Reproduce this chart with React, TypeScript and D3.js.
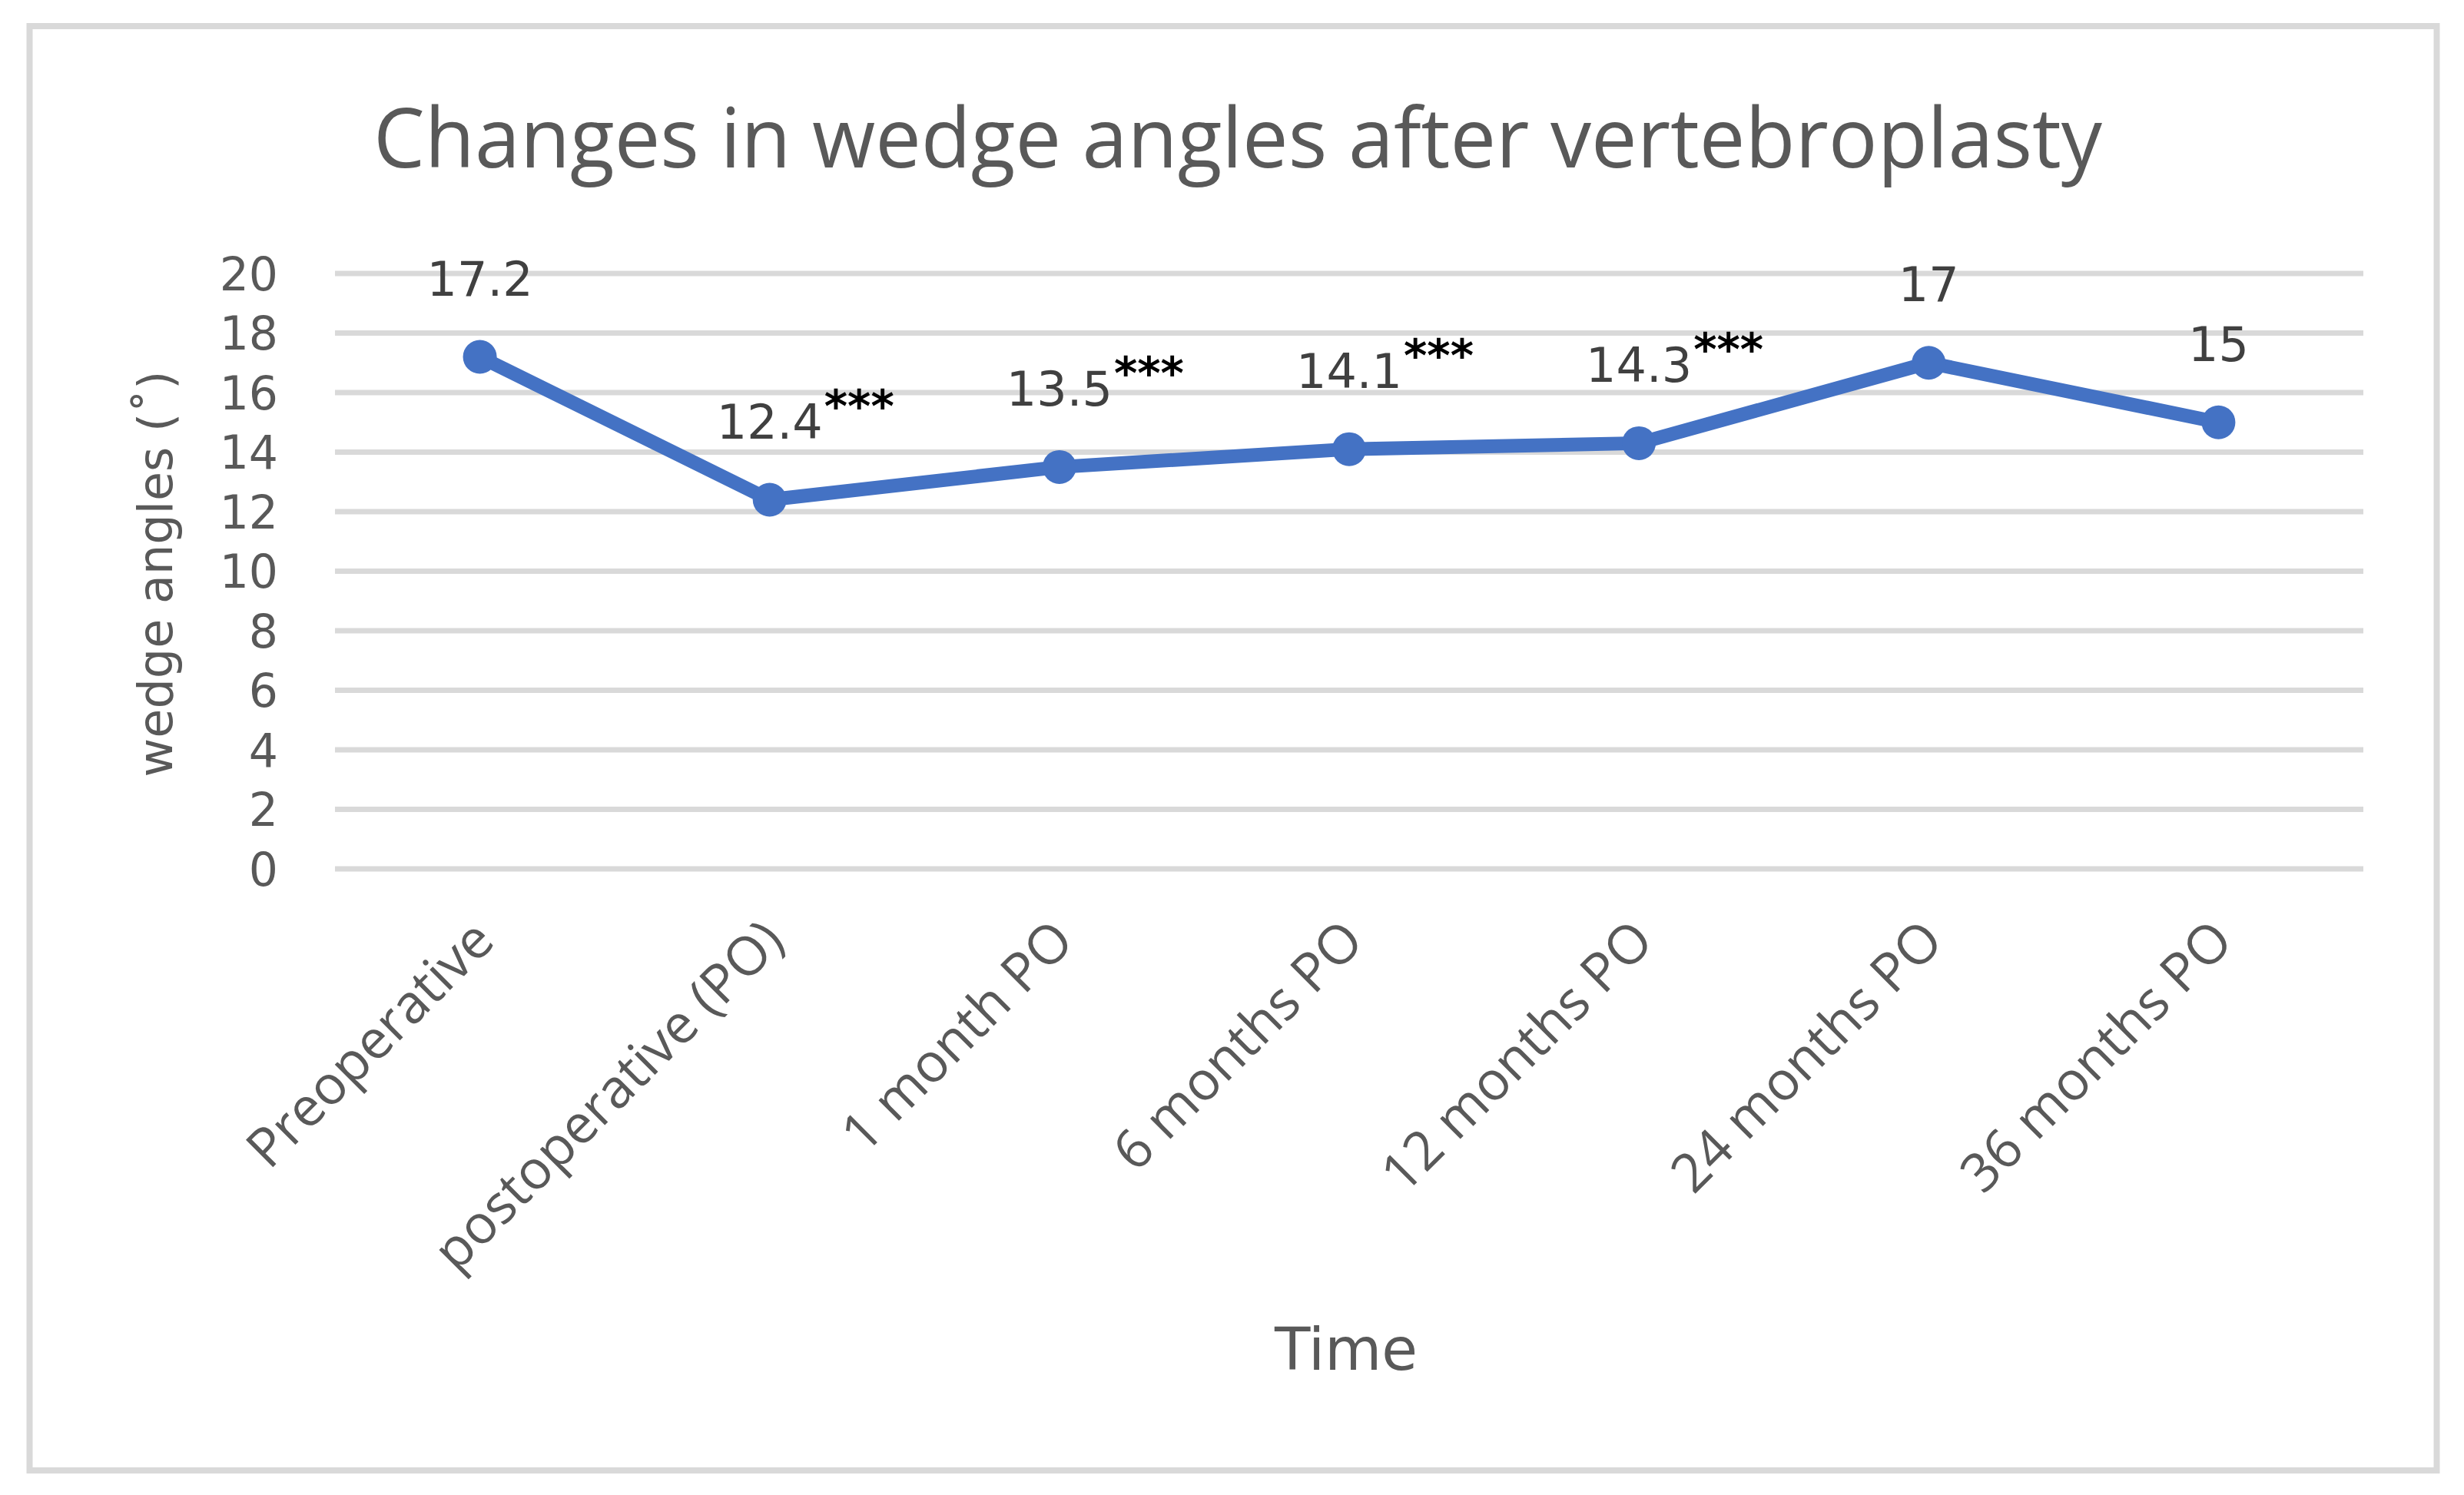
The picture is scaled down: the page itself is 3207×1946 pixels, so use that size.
import React, { useEffect, useRef } from 'react';
import * as d3 from 'd3';

// chart data
const categories = [
  'Preoperative',
  'postoperative (PO)',
  '1 month PO',
  '6 months PO',
  '12 months PO',
  '24 months PO',
  '36 months PO',
];
const wedgeAngles = [17.2, 12.4, 13.5, 14.1, 14.3, 17, 15];
const significance = ['', '***', '***', '***', '***', '', ''];
const yTicks = [0, 2, 4, 6, 8, 10, 12, 14, 16, 18, 20];

const title = 'Changes in wedge angles after vertebroplasty';
const yTitle = 'wedge angles (˚)';
const xTitle = 'Time';

const W = 3207;
const H = 1946;

const App: React.FC = () => {
  const svgRef = useRef<SVGSVGElement>(null);

  useEffect(() => {
    if (!svgRef.current) return;
    const svg = d3.select(svgRef.current);
    svg.selectAll('*').remove();

    const margin = { left: 436, right: 3076, top: 356, bottom: 1131 };
    const sans = '"Open Sans", "DejaVu Sans", sans-serif';
    const deja = '"DejaVu Sans", Verdana, sans-serif';
    const grey = '#595959';
    const blue = '#4472C4';

    const x = d3.scaleBand<string>().domain(categories).range([margin.left, margin.right]);
    const cx = (c: string) => (x(c) ?? 0) + x.bandwidth() / 2;
    const y = d3.scaleLinear().domain([0, 20]).range([margin.bottom, margin.top]);

    svg.append('rect').attr('width', W).attr('height', H).attr('fill', '#fff');

    // outer frame
    svg.append('rect')
      .attr('x', 38.5).attr('y', 34)
      .attr('width', 3133).attr('height', 1880)
      .attr('fill', 'none')
      .attr('stroke', '#d9d9d9')
      .attr('stroke-width', 8);

    // title
    svg.append('text')
      .attr('x', 1611).attr('y', 218)
      .attr('text-anchor', 'middle')
      .attr('font-family', sans)
      .attr('font-size', 108)
      .attr('textLength', 2250)
      .attr('lengthAdjust', 'spacingAndGlyphs')
      .attr('fill', grey)
      .text(title);

    // gridlines
    svg.append('g').selectAll('line')
      .data(yTicks)
      .enter()
      .append('line')
      .attr('x1', margin.left).attr('x2', margin.right)
      .attr('y1', d => y(d)).attr('y2', d => y(d))
      .attr('stroke', '#d9d9d9')
      .attr('stroke-width', 7);

    // y tick labels
    svg.append('g').selectAll('text')
      .data(yTicks)
      .enter()
      .append('text')
      .attr('x', 362)
      .attr('y', d => y(d))
      .attr('dy', '0.36em')
      .attr('text-anchor', 'end')
      .attr('font-family', deja)
      .attr('font-size', 60)
      .attr('fill', grey)
      .text(d => d);

    // y axis title
    svg.append('text')
      .attr('transform', 'translate(224,747) rotate(-90)')
      .attr('text-anchor', 'middle')
      .attr('font-family', deja)
      .attr('font-size', 62)
      .attr('fill', grey)
      .text(yTitle);

    // x tick labels
    svg.append('g').selectAll('text')
      .data(categories)
      .enter()
      .append('text')
      .attr('transform', d => `translate(${cx(d) + 22},${margin.bottom + 97}) rotate(-45)`)
      .attr('text-anchor', 'end')
      .attr('font-family', sans)
      .attr('font-size', 70)
      .attr('fill', grey)
      .text(d => d);

    // x axis title
    svg.append('text')
      .attr('x', 1752).attr('y', 1783)
      .attr('text-anchor', 'middle')
      .attr('font-family', deja)
      .attr('font-size', 76)
      .attr('fill', grey)
      .text(xTitle);

    // line
    const line = d3.line<number>()
      .x((_, i) => cx(categories[i]))
      .y(d => y(d));

    svg.append('path')
      .datum(wedgeAngles)
      .attr('fill', 'none')
      .attr('stroke', blue)
      .attr('stroke-width', 18)
      .attr('stroke-linejoin', 'round')
      .attr('d', line);

    svg.append('g').selectAll('circle')
      .data(wedgeAngles)
      .enter()
      .append('circle')
      .attr('cx', (_, i) => cx(categories[i]))
      .attr('cy', d => y(d))
      .attr('r', 22)
      .attr('fill', blue);

    // data labels
    const labels = svg.append('g');
    wedgeAngles.forEach((v, i) => {
      const px = cx(categories[i]);
      const py = y(v) - 80;
      const t = labels.append('text')
        .attr('x', px).attr('y', py)
        .attr('text-anchor', 'middle')
        .attr('font-family', deja)
        .attr('font-size', 62)
        .attr('fill', '#404040')
        .text(String(v));
      if (significance[i]) {
        const w = (t.node() as SVGTextElement).getComputedTextLength();
        labels.append('text')
          .attr('x', px + w / 2 + 2).attr('y', py - 22)
          .attr('font-family', deja)
          .attr('font-weight', 700)
          .attr('font-size', 58)
          .attr('fill', '#000')
          .text(significance[i]);
      }
    });
  }, []);

  return (
    <svg
      ref={svgRef}
      width={W}
      height={H}
      viewBox={`0 0 ${W} ${H}`}
      style={{ position: 'absolute', left: 0, top: 0 }}
    />
  );
};

export default App;
